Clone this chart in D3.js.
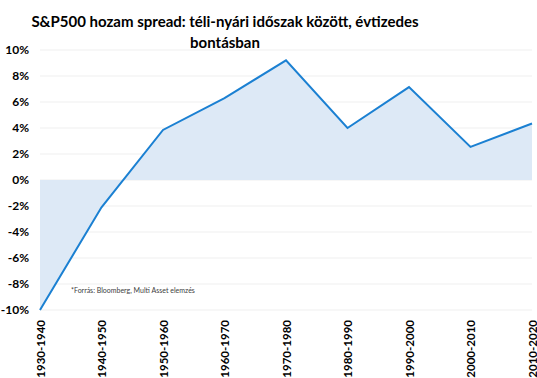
<!DOCTYPE html>
<html>
<head>
<meta charset="utf-8">
<script src="https://cdn.jsdelivr.net/npm/d3@7"></script>
<style>
  body { margin: 0; background: #fff; }
  svg { font-family: Lato, "Open Sans", sans-serif; }
</style>
</head>
<body>
<div id="chart"></div>
<script>
// decades and the winter-summer return spread (%)
const decades = ["1930-1940", "1940-1950", "1950-1960", "1960-1970", "1970-1980",
                 "1980-1990", "1990-2000", "2000-2010", "2010-2020"];
const spread = [-10, -2.1, 3.85, 6.3, 9.2, 4.0, 7.15, 2.55, 4.35];
const yTicks = [-10, -8, -6, -4, -2, 0, 2, 4, 6, 8, 10];

const width = 537, height = 378;
const margin = { top: 50, right: 5, bottom: 68, left: 40 };
const w = width - margin.left - margin.right;
const h = height - margin.top - margin.bottom;

const svg = d3.select("#chart").append("svg")
    .attr("width", width)
    .attr("height", height);

const g = svg.append("g")
    .attr("transform", `translate(${margin.left},${margin.top})`);

const x = d3.scalePoint().domain(decades).range([0, w]);
const y = d3.scaleLinear().domain([-10, 10]).range([h, 0]);

// gridlines
g.selectAll(".grid").data(yTicks).enter().append("line")
    .attr("x1", 0).attr("x2", w)
    .attr("y1", d => y(d)).attr("y2", d => y(d))
    .attr("stroke", "#efefef")
    .attr("stroke-width", 1);

const data = decades.map((d, i) => ({ decade: d, value: spread[i] }));

// area
const area = d3.area()
    .x(d => x(d.decade))
    .y0(y(0))
    .y1(d => y(d.value));

g.append("path")
    .datum(data)
    .attr("d", area)
    .style("fill", "#dde9f6");

// line
const line = d3.line()
    .x(d => x(d.decade))
    .y(d => y(d.value));

g.append("path")
    .datum(data)
    .attr("d", line)
    .style("fill", "none")
    .style("stroke", "#1b80d2")
    .style("stroke-width", 2);

// y axis
const yAxis = d3.axisLeft(y).tickValues(yTicks).tickSize(0).tickPadding(11)
    .tickFormat(d => d + "%");
g.append("g")
    .call(yAxis)
    .call(s => s.select(".domain").remove())
    .selectAll("text")
    .style("font-size", "12px")
    .style("font-weight", "bold")
    .style("font-family", "Lato, sans-serif")
    .style("fill", "#000");

// x axis
const xAxis = d3.axisBottom(x).tickSize(0);
g.append("g")
    .attr("transform", `translate(0,${h})`)
    .call(xAxis)
    .call(s => s.select(".domain").remove())
    .selectAll("text")
    .attr("transform", "rotate(-90)")
    .attr("x", -10)
    .attr("y", 0)
    .attr("dy", "0.35em")
    .style("text-anchor", "end")
    .style("font-size", "11.5px")
    .style("font-weight", "bold")
    .style("font-family", "Lato, sans-serif")
    .style("fill", "#000");

// title
svg.append("text")
    .attr("x", 225)
    .attr("y", 27)
    .attr("text-anchor", "middle")
    .style("font-size", "15px")
    .style("font-weight", "bold")
    .text("S&P500 hozam spread: téli-nyári időszak között, évtizedes");

svg.append("text")
    .attr("x", 225)
    .attr("y", 48)
    .attr("text-anchor", "middle")
    .style("font-size", "15px")
    .style("font-weight", "bold")
    .text("bontásban");

// source note
svg.append("text")
    .attr("x", 71)
    .attr("y", 293)
    .style("font-size", "7px")
    .style("fill", "#404040")
    .text("*Forrás: Bloomberg, Multi Asset elemzés");
</script>
</body>
</html>
